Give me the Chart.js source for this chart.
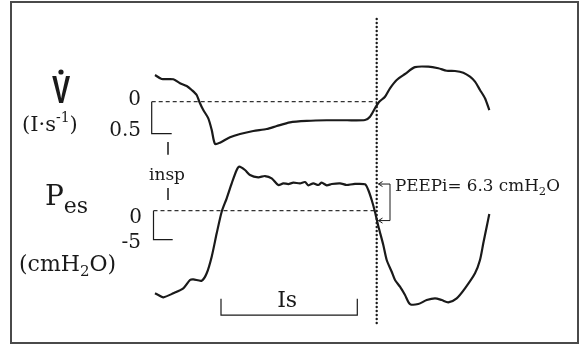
<!DOCTYPE html>
<html><head><meta charset="utf-8">
<script src="https://cdn.jsdelivr.net/npm/chart.js@4"></script>
<style>html,body{margin:0;padding:0;background:#fff}canvas{display:block}</style>
</head><body>
<canvas id="c" width="583" height="348"></canvas>
<script>
// Airflow (l/s, inspiration drawn downward as negative) against time (s)
const flowTime = [0.05,0.117,0.233,0.30,0.367,0.417,0.467,0.493,0.533,0.583,0.617,0.65,0.70,0.80,0.90,1.033,1.167,1.267,1.40,1.567,1.767,1.967,2.15,2.20,2.25,2.29,2.35,2.40,2.467,2.55,2.65,2.783,2.883,2.967,3.05,3.133,3.20,3.25,3.30,3.35,3.393];
const flowValues = [0.417,0.355,0.35,0.288,0.245,0.183,0.105,0,-0.13,-0.26,-0.44,-0.66,-0.64,-0.556,-0.505,-0.458,-0.427,-0.38,-0.322,-0.30,-0.29,-0.29,-0.286,-0.234,-0.103,-0.005,0.078,0.21,0.34,0.433,0.54,0.547,0.522,0.484,0.48,0.453,0.39,0.3125,0.183,0.053,-0.13];

// Oesophageal pressure (cmH2O) against time (s)
const pesTime = [0.05,0.083,0.133,0.233,0.333,0.40,0.433,0.517,0.567,0.617,0.667,0.717,0.767,0.817,0.867,0.893,0.95,1.0,1.083,1.15,1.217,1.283,1.333,1.383,1.433,1.50,1.55,1.583,1.633,1.683,1.717,1.767,1.817,1.90,1.967,2.033,2.15,2.183,2.217,2.25,2.283,2.333,2.367,2.417,2.45,2.50,2.55,2.60,2.683,2.767,2.85,2.917,2.983,3.067,3.15,3.25,3.30,3.333,3.367,3.393];
const pesValues = [-14.24,-14.53,-14.93,-14.24,-13.38,-11.95,-11.83,-12.07,-10.79,-7.93,-3.90,-0.17,2.14,4.72,7.02,7.59,7.02,6.16,5.76,5.98,5.59,4.43,4.72,4.60,4.83,4.72,4.95,4.38,4.72,4.43,4.83,4.38,4.60,4.72,4.43,4.60,4.55,3.57,1.84,-0.22,-2.64,-5.91,-8.50,-10.52,-11.95,-13.10,-14.53,-16.09,-16.09,-15.40,-15.10,-15.40,-15.79,-15.10,-13.38,-10.79,-8.50,-5.62,-2.76,-0.57];

// Annotation values
const PEEPI = 6.3;           // cmH2O
const pesPlateau = 4.6;      // end-expiratory plateau (cmH2O)
const flowZeroTime = 2.267;  // start of inspiratory flow (dotted marker)
const flowScaleBar = 0.5;    // l/s
const pesScaleBar = 5;       // cmH2O
const isStart = 0.71, isEnd = 2.073; // Is interval (s)

const ink = '#1a1a1a';
const zip = (xs, ys) => xs.map((x, i) => ({x, y: ys[i]}));

const dashed = {borderColor: '#333', borderWidth: 1.2, borderDash: [4, 3], pointRadius: 0, fill: false};
const solidThin = {borderColor: ink, borderWidth: 1.2, pointRadius: 0, fill: false};

function rich(ctx, parts, x, y, align) {
  let total = 0;
  for (const p of parts) { ctx.font = p.font; total += ctx.measureText(p.t).width; }
  let cx = align === 'right' ? x - total : align === 'center' ? x - total / 2 : x;
  ctx.textAlign = 'left';
  for (const p of parts) {
    ctx.font = p.font;
    ctx.fillText(p.t, cx, y + (p.dy || 0));
    cx += ctx.measureText(p.t).width;
  }
}

const serif = (s) => `${s}px "DejaVu Serif", serif`;

const annotations = {
  id: 'annotations',
  afterDatasetsDraw(chart) {
    const ctx = chart.ctx;
    const x = chart.scales.x, yF = chart.scales.yF, yP = chart.scales.yP;
    ctx.save();
    ctx.fillStyle = ink;
    ctx.strokeStyle = ink;
    ctx.textBaseline = 'alphabetic';

    // frame
    ctx.strokeStyle = '#4a4a4a';
    ctx.lineWidth = 2;
    ctx.strokeRect(11, 2, 567, 341);

    // dotted marker at start of inspiratory flow
    const xd = x.getPixelForValue(flowZeroTime);
    ctx.strokeStyle = ink;
    ctx.lineWidth = 2.4;
    ctx.lineCap = 'round';
    ctx.setLineDash([0, 4]);
    ctx.beginPath(); ctx.moveTo(xd, 19); ctx.lineTo(xd, 327); ctx.stroke();
    ctx.setLineDash([]);
    ctx.lineCap = 'butt';

    // insp ticks
    const xi = x.getPixelForValue(0.18);
    ctx.lineWidth = 1.5;
    ctx.beginPath();
    ctx.moveTo(xi, yF.getPixelForValue(-0.63)); ctx.lineTo(xi, yF.getPixelForValue(-0.83));
    ctx.moveTo(xi, yP.getPixelForValue(3.9)); ctx.lineTo(xi, yP.getPixelForValue(1.85));
    ctx.stroke();

    // Is bracket
    const yb = yP.getPixelForValue(-18.0), ybt = yP.getPixelForValue(-15.2);
    const x1 = x.getPixelForValue(isStart), x2 = x.getPixelForValue(isEnd);
    ctx.lineWidth = 1.2;
    ctx.beginPath();
    ctx.moveTo(x1, ybt); ctx.lineTo(x1, yb); ctx.lineTo(x2, yb); ctx.lineTo(x2, ybt);
    ctx.stroke();

    // PEEPi bracket with arrows
    const yTop = yP.getPixelForValue(pesPlateau), yBot = yP.getPixelForValue(pesPlateau - PEEPI);
    const xr = x.getPixelForValue(2.40), xt = x.getPixelForValue(2.285);
    ctx.lineWidth = 1;
    ctx.beginPath();
    ctx.moveTo(xt, yTop); ctx.lineTo(xr, yTop); ctx.lineTo(xr, yBot); ctx.lineTo(xt, yBot);
    for (const yy of [yTop, yBot]) {
      ctx.moveTo(xt + 4, yy - 2.5); ctx.lineTo(xt, yy); ctx.lineTo(xt + 4, yy + 2.5);
    }
    ctx.stroke();

    // texts
    ctx.fillStyle = ink;
    // flow symbol: narrow V with a dot above
    ctx.save();
    ctx.translate(61, 103);
    ctx.scale(0.7, 1);
    ctx.font = 'bold 39px "Liberation Sans", Arial, sans-serif';
    ctx.textAlign = 'center';
    ctx.fillText('V', 0, 0);
    ctx.restore();
    ctx.beginPath(); ctx.arc(61, 72, 2.6, 0, Math.PI * 2); ctx.fill();

    rich(ctx, [{t: '(I·s', font: serif(21)}, {t: '-1', font: serif(14), dy: -9}, {t: ')', font: serif(21)}], 22, 131, 'left');

    rich(ctx, [{t: 'P', font: serif(28)}, {t: 'es', font: serif(22), dy: 8}], 45, 205, 'left');
    rich(ctx, [{t: '(cmH', font: serif(22)}, {t: '2', font: serif(15), dy: 5}, {t: 'O)', font: serif(22)}], 19, 271, 'left');

    ctx.font = serif(20);
    ctx.textAlign = 'right';
    ctx.fillText('0', 141, yF.getPixelForValue(0) + 3);
    ctx.fillText(String(flowScaleBar), 141, yF.getPixelForValue(-flowScaleBar) + 2);
    ctx.fillText('0', 142, yP.getPixelForValue(0) + 12);
    ctx.fillText('-' + pesScaleBar, 141, yP.getPixelForValue(-pesScaleBar) + 8);

    ctx.font = serif(17);
    ctx.textAlign = 'center';
    ctx.fillText('insp', xi - 1, 180);

    ctx.font = serif(22);
    ctx.fillText('Is', (x1 + x2) / 2 - 2, 307);

    rich(ctx, [{t: 'PEEPi= ' + PEEPI + ' cmH', font: serif(16.8)}, {t: '2', font: serif(11.5), dy: 4}, {t: 'O', font: serif(16.8)}], xr + 5, 191, 'left');

    ctx.restore();
  }
};

new Chart(document.getElementById('c'), {
  type: 'line',
  data: {
    datasets: [
      {data: zip(flowTime, flowValues), yAxisID: 'yF', borderColor: ink, borderWidth: 2.2, pointRadius: 0, tension: 0.25, fill: false},
      {data: zip(pesTime, pesValues), yAxisID: 'yP', borderColor: ink, borderWidth: 2.2, pointRadius: 0, tension: 0.25, fill: false},
      Object.assign({data: [{x: 0.017, y: 0}, {x: flowZeroTime, y: 0}], yAxisID: 'yF'}, dashed),
      Object.assign({data: [{x: 0.035, y: 0}, {x: flowZeroTime, y: 0}], yAxisID: 'yP'}, dashed),
      Object.assign({data: [{x: 0.017, y: 0}, {x: 0.017, y: -flowScaleBar}, {x: 0.217, y: -flowScaleBar}], yAxisID: 'yF'}, solidThin),
      Object.assign({data: [{x: 0.035, y: 0}, {x: 0.035, y: -pesScaleBar}, {x: 0.227, y: -pesScaleBar}], yAxisID: 'yP'}, solidThin)
    ]
  },
  options: {
    responsive: false,
    animation: false,
    layout: {padding: 0},
    plugins: {legend: {display: false}, tooltip: {enabled: false}},
    scales: {
      x: {type: 'linear', display: false, min: -1.5, max: 4.33},
      yF: {type: 'linear', display: false, min: -3.848, max: 1.589},
      yP: {type: 'linear', display: false, min: -23.67, max: 36.33}
    }
  },
  plugins: [annotations]
});
</script>
</body></html>
